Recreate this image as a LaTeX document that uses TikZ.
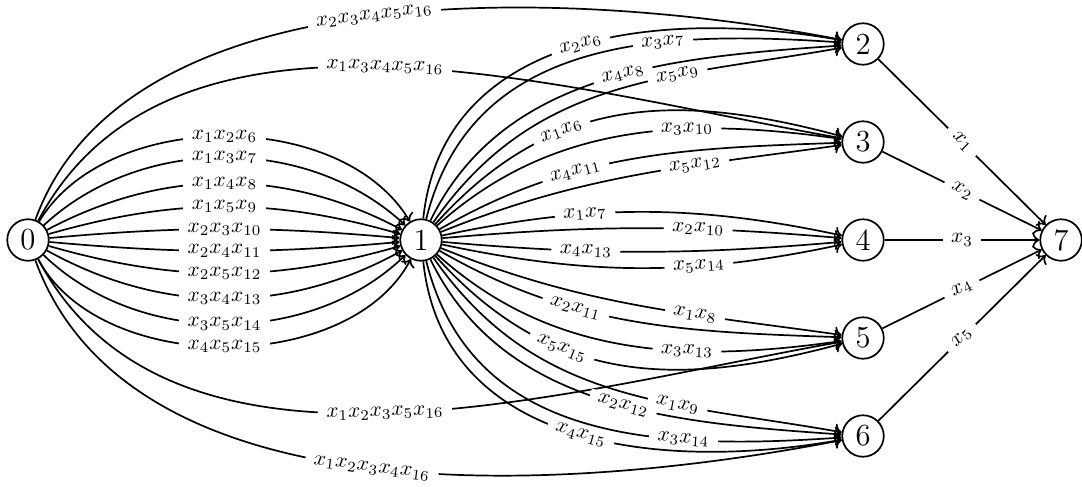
\documentclass[tikz,border=0pt]{standalone}
\usetikzlibrary{arrows.meta}
\begin{document}
\begin{tikzpicture}[x=0.47pt,y=0.47pt,
  vtx/.style={circle,draw,line width=0.8pt,minimum size=19.5pt,inner sep=0pt,font=\Large,fill=white},
  e/.style={line width=0.8pt,->},
  lab/.style={fill=white,inner xsep=4pt,inner ysep=1pt,sloped,font=\normalsize}]
\useasboundingbox (0,0) rectangle (1082,486);
\node[vtx] (n0) at (28,246) {0};
\node[vtx] (n1) at (421,246) {1};
\node[vtx] (n2) at (863,442) {2};
\node[vtx] (n3) at (863,344) {3};
\node[vtx] (n4) at (863,246) {4};
\node[vtx] (n5) at (863,148) {5};
\node[vtx] (n6) at (863,50) {6};
\node[vtx] (n7) at (1061,246) {7};
% 0 -> 1
\draw[e] (n0) .. controls +(59:154) and +(121:154) .. (n1) node[lab,pos=.5]{$x_1x_2x_6$};
\draw[e] (n0) .. controls +(43:154) and +(137:154) .. (n1) node[lab,pos=.5]{$x_1x_3x_7$};
\draw[e] (n0) .. controls +(28:154) and +(152:154) .. (n1) node[lab,pos=.5]{$x_1x_4x_8$};
\draw[e] (n0) .. controls +(16:154) and +(164:154) .. (n1) node[lab,pos=.5]{$x_1x_5x_9$};
\draw[e] (n0) .. controls +(5.2:154) and +(174.8:154) .. (n1) node[lab,pos=.5]{$x_2x_3x_{10}$};
\draw[e] (n0) .. controls +(-5.2:154) and +(185.2:154) .. (n1) node[lab,pos=.5]{$x_2x_4x_{11}$};
\draw[e] (n0) .. controls +(-16:154) and +(196:154) .. (n1) node[lab,pos=.5]{$x_2x_5x_{12}$};
\draw[e] (n0) .. controls +(-29:154) and +(209:154) .. (n1) node[lab,pos=.5]{$x_3x_4x_{13}$};
\draw[e] (n0) .. controls +(-44:154) and +(224:154) .. (n1) node[lab,pos=.5]{$x_3x_5x_{14}$};
\draw[e] (n0) .. controls +(-62:154) and +(242:154) .. (n1) node[lab,pos=.5]{$x_4x_5x_{15}$};
% 0 -> outer
\draw[e] (n0) .. controls +(70:290) and +(169:290) .. (n2) node[lab,pos=.5]{$x_2x_3x_4x_5x_{16}$};
\draw[e] (n0) .. controls +(62:306) and +(170:306) .. (n3) node[lab,pos=.5]{$x_1x_3x_4x_5x_{16}$};
\draw[e] (n0) .. controls +(-62:306) and +(190:306) .. (n5) node[lab,pos=.5]{$x_1x_2x_3x_5x_{16}$};
\draw[e] (n0) .. controls +(-70:300) and +(191:300) .. (n6) node[lab,pos=.5]{$x_1x_2x_3x_4x_{16}$};
% 1 -> 2
\draw[e] (n1) .. controls +(84:208) and +(170:208) .. (n2) node[lab,pos=.52]{$x_2x_6$};
\draw[e] (n1) .. controls +(76:208) and +(176:208) .. (n2) node[lab,pos=.67]{$x_3x_7$};
\draw[e] (n1) .. controls +(64:189) and +(184:189) .. (n2) node[lab,pos=.55]{$x_4x_8$};
\draw[e] (n1) .. controls +(55:200) and +(190:200) .. (n2) node[lab,pos=.66]{$x_5x_9$};
% 1 -> 3
\draw[e] (n1) .. controls +(48:195) and +(165:195) .. (n3) node[lab,pos=.35]{$x_1x_6$};
\draw[e] (n1) .. controls +(42:177) and +(172:177) .. (n3) node[lab,pos=.65]{$x_3x_{10}$};
\draw[e] (n1) .. controls +(30:177) and +(182:177) .. (n3) node[lab,pos=.35]{$x_4x_{11}$};
\draw[e] (n1) .. controls +(22:177) and +(188:177) .. (n3) node[lab,pos=.65]{$x_5x_{12}$};
% 1 -> 4
\draw[e] (n1) .. controls +(12:173) and +(168:173) .. (n4) node[lab,pos=.35]{$x_1x_7$};
\draw[e] (n1) .. controls +(5:173) and +(175:173) .. (n4) node[lab,pos=.65]{$x_2x_{10}$};
\draw[e] (n1) .. controls +(-5:173) and +(185:173) .. (n4) node[lab,pos=.35]{$x_4x_{13}$};
\draw[e] (n1) .. controls +(-12:173) and +(192:173) .. (n4) node[lab,pos=.65]{$x_5x_{14}$};
% 1 -> 5
\draw[e] (n1) .. controls +(-22:177) and +(172:177) .. (n5) node[lab,pos=.65]{$x_1x_8$};
\draw[e] (n1) .. controls +(-30:177) and +(178:177) .. (n5) node[lab,pos=.35]{$x_2x_{11}$};
\draw[e] (n1) .. controls +(-42:177) and +(188:177) .. (n5) node[lab,pos=.65]{$x_3x_{13}$};
\draw[e] (n1) .. controls +(-48:195) and +(195:195) .. (n5) node[lab,pos=.35]{$x_5x_{15}$};
% 1 -> 6
\draw[e] (n1) .. controls +(-55:200) and +(170:200) .. (n6) node[lab,pos=.66]{$x_1x_9$};
\draw[e] (n1) .. controls +(-64:189) and +(176:189) .. (n6) node[lab,pos=.55]{$x_2x_{12}$};
\draw[e] (n1) .. controls +(-76:208) and +(184:208) .. (n6) node[lab,pos=.71]{$x_3x_{14}$};
\draw[e] (n1) .. controls +(-84:208) and +(190:208) .. (n6) node[lab,pos=.52]{$x_4x_{15}$};
% -> 7
\draw[e] (n2) -- node[lab]{$x_1$} (n7);
\draw[e] (n3) -- node[lab]{$x_2$} (n7);
\draw[e] (n4) -- node[lab]{$x_3$} (n7);
\draw[e] (n5) -- node[lab]{$x_4$} (n7);
\draw[e] (n6) -- node[lab]{$x_5$} (n7);
\end{tikzpicture}
\end{document}
